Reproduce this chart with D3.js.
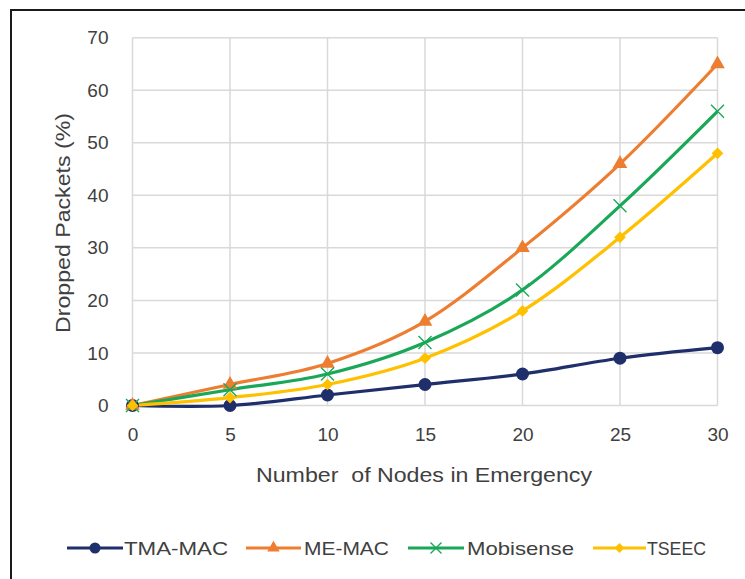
<!DOCTYPE html>
<html>
<head>
<meta charset="utf-8">
<script src="https://cdn.jsdelivr.net/npm/d3@7"></script>
<style>
  html, body { margin: 0; padding: 0; background: #fff; }
  svg text { font-family: "Liberation Sans", Arial, sans-serif; fill: #404040; }
</style>
</head>
<body>
<svg id="chart" width="745" height="579"></svg>
<script>
// ---- data ----
const nodes = [0, 5, 10, 15, 20, 25, 30];
const tmaMac = [0, 0, 2, 4, 6, 9, 11];
const meMac = [0, 4, 8, 16, 30, 46, 65];
const mobisense = [0, 3, 6, 12, 22, 38, 56];
const tseec = [0, 1.5, 4, 9, 18, 32, 48];
const yTicks = [0, 10, 20, 30, 40, 50, 60, 70];
const seriesNames = ["TMA-MAC", "ME-MAC", "Mobisense", "TSEEC"];
const xTitle = "Number  of Nodes in Emergency";
const yTitle = "Dropped Packets (%)";

const series = [
  { name: seriesNames[0], values: tmaMac, color: "#1f2f6b", marker: "circle", textW: 104 },
  { name: seriesNames[1], values: meMac, color: "#ed7d31", marker: "triangle", textW: 85 },
  { name: seriesNames[2], values: mobisense, color: "#1aa858", marker: "cross", textW: 107 },
  { name: seriesNames[3], values: tseec, color: "#ffc000", marker: "diamond", textW: 59 }
];

const svg = d3.select("#chart");

// frame
svg.append("rect").attr("x", 11).attr("y", 10).attr("width", 800).attr("height", 700)
  .attr("fill", "none").attr("stroke", "#1a1a1a").attr("stroke-width", 2);

const x = d3.scaleLinear().domain([0, 30]).range([132.5, 717.5]);
const y = d3.scaleLinear().domain([0, 70]).range([405.5, 37.7]);

// gridlines
const g = svg.append("g");
g.selectAll("line.h").data(yTicks).join("line")
  .attr("x1", x(0)).attr("x2", x(30))
  .attr("y1", d => y(d)).attr("y2", d => y(d))
  .attr("stroke", "#d9d9d9").attr("stroke-width", 1.5);
g.selectAll("line.v").data(nodes).join("line")
  .attr("x1", d => x(d)).attr("x2", d => x(d))
  .attr("y1", y(0)).attr("y2", y(70))
  .attr("stroke", "#d9d9d9").attr("stroke-width", 1.5);

// axes (labels only)
const yAxis = d3.axisLeft(y).tickValues(yTicks).tickSize(0).tickPadding(24);
svg.append("g").attr("transform", `translate(${x(0)},0)`).call(yAxis)
  .call(s => s.select(".domain").remove())
  .call(s => s.selectAll("text").attr("font-size", 19).attr("fill", "#404040")
    .attr("font-family", "Liberation Sans, Arial, sans-serif"));

const xAxis = d3.axisBottom(x).tickValues(nodes).tickSize(0).tickPadding(22);
svg.append("g").attr("transform", `translate(0,${y(0)})`).call(xAxis)
  .call(s => s.select(".domain").remove())
  .call(s => s.selectAll("text").attr("font-size", 19).attr("fill", "#404040")
    .attr("font-family", "Liberation Sans, Arial, sans-serif"));

// axis titles
svg.append("text").attr("x", 424).attr("y", 482).attr("text-anchor", "middle")
  .attr("font-size", 20).attr("textLength", 336).attr("lengthAdjust", "spacingAndGlyphs")
  .style("white-space", "pre").text(xTitle);
svg.append("text").attr("transform", "translate(70,223) rotate(-90)").attr("text-anchor", "middle")
  .attr("font-size", 20).attr("textLength", 220).attr("lengthAdjust", "spacingAndGlyphs")
  .text(yTitle);

// marker drawing
function drawMarker(sel, type, color, size) {
  if (type === "circle") {
    sel.append("circle").attr("r", size * 0.5).attr("fill", color);
  } else if (type === "triangle") {
    sel.append("path").attr("d", d3.symbol(d3.symbolTriangle, size * size * 0.55)())
      .attr("fill", color);
  } else if (type === "diamond") {
    const h = size * 0.45;
    sel.append("path").attr("d", `M0,${-h}L${h},0L0,${h}L${-h},0Z`).attr("fill", color);
  } else if (type === "cross") {
    const h = size * 0.5;
    sel.append("path").attr("d", `M${-h},${-h}L${h},${h}M${-h},${h}L${h},${-h}`)
      .attr("stroke", color).attr("stroke-width", 1.4).attr("fill", "none");
  }
}

const line = d3.line().x((d, i) => x(nodes[i])).y(d => y(d)).curve(d3.curveCatmullRom.alpha(0));

// draw series
series.forEach(s => {
  svg.append("path").datum(s.values).attr("d", line)
    .attr("fill", "none").attr("stroke", s.color).attr("stroke-width", 3.2);
});
series.forEach(s => {
  svg.append("g").selectAll("g").data(s.values).join("g")
    .attr("transform", (d, i) => `translate(${x(nodes[i])},${y(d)})`)
    .each(function () { drawMarker(d3.select(this), s.marker, s.color, 13); });
});

// legend
const legendItems = [
  { x0: 67, x1: 123, tx: 124 },
  { x0: 246, x1: 301, tx: 304 },
  { x0: 408, x1: 464, tx: 467 },
  { x0: 593, x1: 646, tx: 647 }
];
const ly = 548;
series.forEach((s, i) => {
  const it = legendItems[i];
  const lg = svg.append("g");
  lg.append("line").attr("x1", it.x0).attr("x2", it.x1).attr("y1", ly).attr("y2", ly)
    .attr("stroke", s.color).attr("stroke-width", 3.2);
  const mg = lg.append("g").attr("transform", `translate(${(it.x0 + it.x1) / 2},${ly})`);
  drawMarker(mg, s.marker, s.color, 11);
  lg.append("text").attr("x", it.tx).attr("y", ly + 7).attr("font-size", 19)
    .attr("textLength", s.textW).attr("lengthAdjust", "spacingAndGlyphs")
    .attr("fill", "#262626").text(s.name);
});
</script>
</body>
</html>
